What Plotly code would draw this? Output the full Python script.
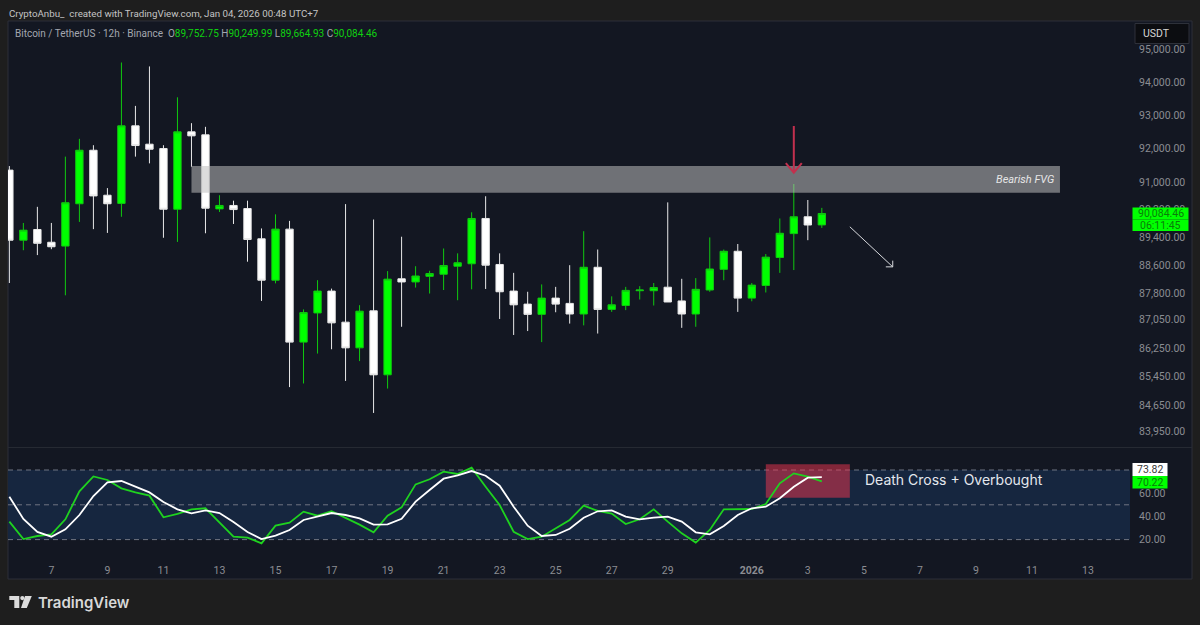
"""
BTC/USDT 12h chart with Stoch RSI pane, TradingView look
"""

import pandas as pd
import plotly.graph_objects as go
from plotly.subplots import make_subplots

# Candles
opens = [91360, 89310, 89620, 89250, 89140, 90370, 91950, 90620, 90380, 92680,
         92130, 92000, 90210, 92500, 92410, 90220, 90320, 90230, 89350, 88160,
         89630, 86410, 87230, 87850, 86970, 86250, 87290, 85500, 88200, 88110,
         88270, 88330, 88560, 88630, 89940, 88610, 87850, 87480, 87190, 87650,
         87500, 87200, 88530, 87330, 87440, 87860, 87860, 87960, 87570, 87200,
         87880, 88470, 88990, 87650, 88010, 88810, 89500, 89990, 89752.75]
highs = [91480, 89810, 90280, 89810, 91760, 92290, 92100, 90830, 94600, 93280,
         94480, 92100, 93540, 92760, 92650, 90620, 90460, 90460, 89650, 90060,
         89870, 87330, 88160, 87920, 90360, 87450, 89910, 88420, 89410, 88560,
         88430, 89070, 88930, 90120, 90590, 88930, 88370, 87830, 88040, 87970,
         88590, 89570, 89040, 87700, 87970, 87990, 88080, 90410, 88200, 88220,
         89390, 89040, 89200, 88080, 88910, 89940, 90950, 90480, 90249.99]
lows = [88080, 89020, 88880, 89050, 87730, 89840, 89630, 89520, 89990, 91760,
        91560, 89380, 89260, 91460, 89510, 90130, 89780, 88690, 87570, 88070,
        85160, 85260, 86090, 86210, 85330, 85880, 84450, 85120, 86840, 87950,
        87780, 87880, 87590, 87900, 87910, 87060, 86610, 86720, 86410, 87250,
        86930, 86880, 86650, 87260, 87310, 87610, 87440, 87540, 86810, 86840,
        87830, 88160, 87260, 87560, 87810, 88370, 88450, 89310, 89664.93]
closes = [89310, 89600, 89220, 89120, 90400, 91950, 90600, 90370, 92680, 92090,
          91980, 90210, 92500, 92380, 90240, 90320, 90200, 89330, 88160, 89630,
          86410, 87240, 87850, 86950, 86250, 87280, 85500, 88190, 88110, 88280,
          88350, 88580, 88660, 89940, 88590, 87830, 87460, 87190, 87650, 87480,
          87200, 88530, 87330, 87460, 87870, 87880, 87950, 87540, 87200, 87900,
          88480, 88990, 87650, 88020, 88820, 89510, 89990, 89750, 90084.46]

# Stochastic RSI
stoch_k = [35.5, 20.5, 23.1, 24.5, 37.5, 61.6, 74.5, 71.4, 64.2, 60.7,
           57.9, 39.2, 42.1, 46.1, 47.0, 34.6, 22.5, 21.7, 16.8, 32.0,
           34.6, 44.1, 40.6, 44.4, 38.9, 32.9, 26.3, 40.6, 47.8, 67.6,
           72.0, 78.6, 76.6, 82.0, 65.6, 49.8, 26.8, 20.5, 22.5, 29.7,
           36.9, 49.3, 44.7, 42.4, 33.4, 37.5, 46.1, 35.5, 25.4, 17.4,
           28.3, 46.1, 46.4, 46.4, 50.7, 68.5, 77.1, 74.3, 70.22]
stoch_d = [57.0, 37.8, 26.6, 22.5, 28.9, 41.2, 57.6, 69.4, 70.5, 65.6,
           60.7, 52.4, 46.1, 42.6, 45.2, 42.9, 35.2, 26.6, 20.5, 23.4,
           28.3, 36.9, 39.8, 42.9, 41.2, 38.3, 32.9, 33.2, 38.0, 52.7,
           62.8, 72.5, 75.4, 79.1, 75.1, 66.5, 48.4, 32.0, 23.1, 24.0,
           29.4, 38.9, 44.4, 45.2, 39.8, 37.5, 38.9, 39.8, 35.5, 26.3,
           24.5, 31.7, 41.2, 47.0, 48.4, 55.6, 65.6, 73.4, 73.82]

dates = pd.date_range("2025-12-05 12:00", periods=len(closes), freq="12h")

price_ticks = [95000, 94000, 93000, 92000, 91000, 90200, 89400, 88600, 87800,
               87050, 86250, 85450, 84650, 83950]
stoch_ticks = [60, 40, 20]
stoch_levels = [80, 50, 20]
time_ticks = ["2025-12-07", "2025-12-09", "2025-12-11", "2025-12-13", "2025-12-15",
              "2025-12-17", "2025-12-19", "2025-12-21", "2025-12-23", "2025-12-25",
              "2025-12-27", "2025-12-29", "2026-01-01", "2026-01-03", "2026-01-05",
              "2026-01-07", "2026-01-09", "2026-01-11", "2026-01-13"]
time_labels = ["7", "9", "11", "13", "15", "17", "19", "21", "23", "25", "27", "29",
               "<b>2026</b>", "3", "5", "7", "9", "11", "13"]

# Drawings on the chart
fvg_x = ["2025-12-12 00:00", "2026-01-12 00:00", "2026-01-12 00:00", "2025-12-12 00:00", "2025-12-12 00:00"]
fvg_y = [91480, 91480, 90690, 90690, 91480]
red_arrow_x = ["2026-01-02 12:00", "2026-01-02 12:00", None,
               "2026-01-02 05:10", "2026-01-02 12:00", "2026-01-02 18:50"]
red_arrow_y = [92675, 91283, None, 91569, 91283, 91569]
white_arrow_x = ["2026-01-04 12:00", "2026-01-06 00:45", None,
                 "2026-01-06 00:45", "2026-01-06 00:45", "2026-01-05 18:50"]
white_arrow_y = [89699, 88542, None, 88720, 88542, 88542]

PANE = "#131722"
OUTER = "#1e1e1e"
GREEN = "#00ff00"
LABEL_GREY = "#8b8d92"
FONT = "Roboto"

# pixel helpers: the plot box runs 8..1192 across and 21..579 down
L, R, T, B = 8, 1192, 21, 579


def px_x(x):
    return (x - L) / (R - L)


def px_y(y):
    return (B - y) / (B - T)


def polygon(points):
    coords = [f"{px_x(x):.5f} {px_y(y):.5f}" for x, y in points]
    return "M " + " L ".join(coords) + " Z"


fig = make_subplots(rows=2, cols=1, shared_xaxes=True, vertical_spacing=0)

fig.add_trace(go.Candlestick(
    x=dates, open=opens, high=highs, low=lows, close=closes,
    increasing=dict(line=dict(color="#10c810", width=1), fillcolor=GREEN),
    decreasing=dict(line=dict(color="#e8e8e8", width=1), fillcolor="#ffffff"),
), row=1, col=1)

fig.add_trace(go.Scatter(
    x=fvg_x, y=fvg_y, mode="none", fill="toself",
    fillcolor="rgba(190,190,190,0.54)",
), row=1, col=1)
fig.add_trace(go.Scatter(
    x=red_arrow_x, y=red_arrow_y, mode="lines",
    line=dict(color="#c2304e", width=2),
), row=1, col=1)
fig.add_trace(go.Scatter(
    x=white_arrow_x, y=white_arrow_y, mode="lines",
    line=dict(color="#d8dade", width=1),
), row=1, col=1)

fig.add_trace(go.Scatter(
    x=dates, y=stoch_k, mode="lines", line=dict(color="#1fd21f", width=1.8),
), row=2, col=1)
fig.add_trace(go.Scatter(
    x=dates, y=stoch_d, mode="lines", line=dict(color="#ffffff", width=1.8),
), row=2, col=1)

# pane background and border
fig.add_shape(type="rect", xref="paper", yref="paper", x0=0, x1=1, y0=0, y1=1,
              fillcolor=PANE, line=dict(color="#2c2f38", width=1), layer="below")
fig.add_shape(type="line", xref="paper", yref="paper", x0=0, x1=1,
              y0=px_y(447.5), y1=px_y(447.5), line=dict(color="#262a33", width=1), layer="below")

# stoch band, levels, highlighted area
fig.add_shape(type="rect", xref="x2 domain", yref="y2", x0=0, x1=1,
              y0=stoch_levels[2], y1=stoch_levels[0],
              fillcolor="#16263f", line=dict(width=0), layer="below")
for level in stoch_levels:
    fig.add_shape(type="line", xref="x2 domain", yref="y2", x0=0, x1=1, y0=level, y1=level,
                  line=dict(color="#6f7482", width=1, dash="5px,4px"), layer="below")
fig.add_shape(type="rect", xref="x2", yref="y2",
              x0="2026-01-01 12:00", x1="2026-01-04 12:00", y0=56.1, y1=84.9,
              fillcolor="rgba(242,54,80,0.5)", line=dict(width=0), layer="below")

# TradingView logo
logo_t = [(9.3, 596), (19.3, 596), (19.3, 608), (14.3, 608), (14.3, 600), (9.3, 600)]
logo_v = [(25, 596), (31.8, 596), (26.8, 608), (21, 608)]
for pts in (logo_t, logo_v):
    fig.add_shape(type="path", xref="paper", yref="paper", path=polygon(pts),
                  fillcolor="#dcdcdc", line=dict(width=0))
fig.add_shape(type="circle", xref="paper", yref="paper",
              x0=px_x(20.2), x1=px_x(24.4), y0=px_y(600.2), y1=px_y(596),
              fillcolor="#dcdcdc", line=dict(width=0))


def text(px, py, s, size=11, color="#d0d0d0", anchor="left", family=FONT, weight=None):
    fig.add_annotation(xref="paper", yref="paper", x=px_x(px), y=px_y(py), text=s,
                       showarrow=False, xanchor=anchor, yanchor="middle",
                       font=dict(family=family, size=size, color=color, weight=weight))


def ohlc(letter, value):
    return f'{letter}<span style="color:#10d010">{value}</span>'


text(7, 13.5, "CryptoAnbu_  created with TradingView.com, Jan 04, 2026 00:48 UTC+7",
     size=9.75, color="#c4c4c4")
text(13, 33.5, "Bitcoin / TetherUS · 12h · Binance  "
     + " ".join([ohlc("O", "89,752.75"), ohlc("H", "90,249.99"),
                 ohlc("L", "89,664.93"), ohlc("C", "90,084.46")]),
     size=10, color="#a3a7b0")
text(1056, 179.5, "<i>Bearish FVG</i>", size=11, color="#e6e6e6", anchor="right")
text(863, 480, "Death Cross + Overbought", size=14, color="#e4e8ee", family="Inter")
text(36, 602.5, "TradingView", size=15, color="#d8d8d8", family="Inter", weight=600)


def box(x0, x1, y0, y1, s, bg, color, border=None, left=False):
    fig.add_shape(type="rect", xref="paper", yref="paper",
                  x0=px_x(x0), x1=px_x(x1), y0=px_y(y1), y1=px_y(y0), fillcolor=bg,
                  line=dict(color=border, width=1) if border else dict(width=0))
    if left:
        text(x0 + 6, (y0 + y1) / 2, s, size=10.5, color=color)
    else:
        text((x0 + x1) / 2, (y0 + y1) / 2, s, size=10.5, color=color, anchor="center")


box(1135, 1189, 23.5, 43.5, "USDT", "#0c0d11", "#d6d6d6", border="#2e313a", left=True)
box(1132.5, 1188.5, 207.5, 219.5, "90,084.46", GREEN, "#0a7d0a")
box(1132.5, 1188.5, 219.5, 231, "06:11:45", GREEN, "#0a7d0a")
box(1132.5, 1167.5, 463, 476, "73.82", "#ffffff", "#3a3a3a")
box(1132.5, 1167.5, 476, 488.5, "70.22", GREEN, "#0a7d0a")

fig.update_layout(
    width=1200, height=625, template="none",
    margin=dict(l=L, r=1200 - R, t=T, b=625 - B),
    paper_bgcolor=OUTER, plot_bgcolor="rgba(0,0,0,0)",
    showlegend=False, hovermode=False, boxgap=0.25,
    font=dict(family=FONT, size=10.5, color=LABEL_GREY),
)

plot_w = (1130 - L) / (R - L)
x_range = ["2025-12-05 10:50", "2026-01-14 12:00"]
fig.update_xaxes(domain=[0, plot_w], range=x_range, showgrid=False, zeroline=False,
                 showline=False, automargin=False, rangeslider_visible=False)
fig.update_xaxes(showticklabels=False, ticks="", row=1, col=1)
fig.update_xaxes(tickmode="array", tickvals=time_ticks, ticktext=time_labels,
                 tickfont=dict(family=FONT, size=10.5, color=LABEL_GREY),
                 tickangle=0, ticks="outside", ticklen=2, tickcolor="rgba(0,0,0,0)", row=2, col=1)

fig.update_yaxes(type="log", side="right", domain=[px_y(447.5), 1],
                 range=[4.92174, 4.98173], tickmode="array", tickvals=price_ticks,
                 ticktext=[f"{v:,.2f}" for v in price_ticks],
                 showgrid=False, zeroline=False, showline=False, automargin=False,
                 ticks="outside", ticklen=6, tickcolor="rgba(0,0,0,0)",
                 tickfont=dict(family=FONT, size=10.5, color=LABEL_GREY), row=1, col=1)
fig.update_yaxes(side="right", domain=[px_y(558), px_y(448)], range=[4.14, 98.97],
                 tickmode="array", tickvals=stoch_ticks,
                 ticktext=[f"{v:.2f}" for v in stoch_ticks],
                 showgrid=False, zeroline=False, showline=False, automargin=False,
                 ticks="outside", ticklen=6, tickcolor="rgba(0,0,0,0)",
                 tickfont=dict(family=FONT, size=10.5, color=LABEL_GREY), row=2, col=1)

# the page's default body margin would push the chart 8px off
fig.write_html("out.html", config={"displayModeBar": False},
               post_script="document.body.style.margin = '0';")
